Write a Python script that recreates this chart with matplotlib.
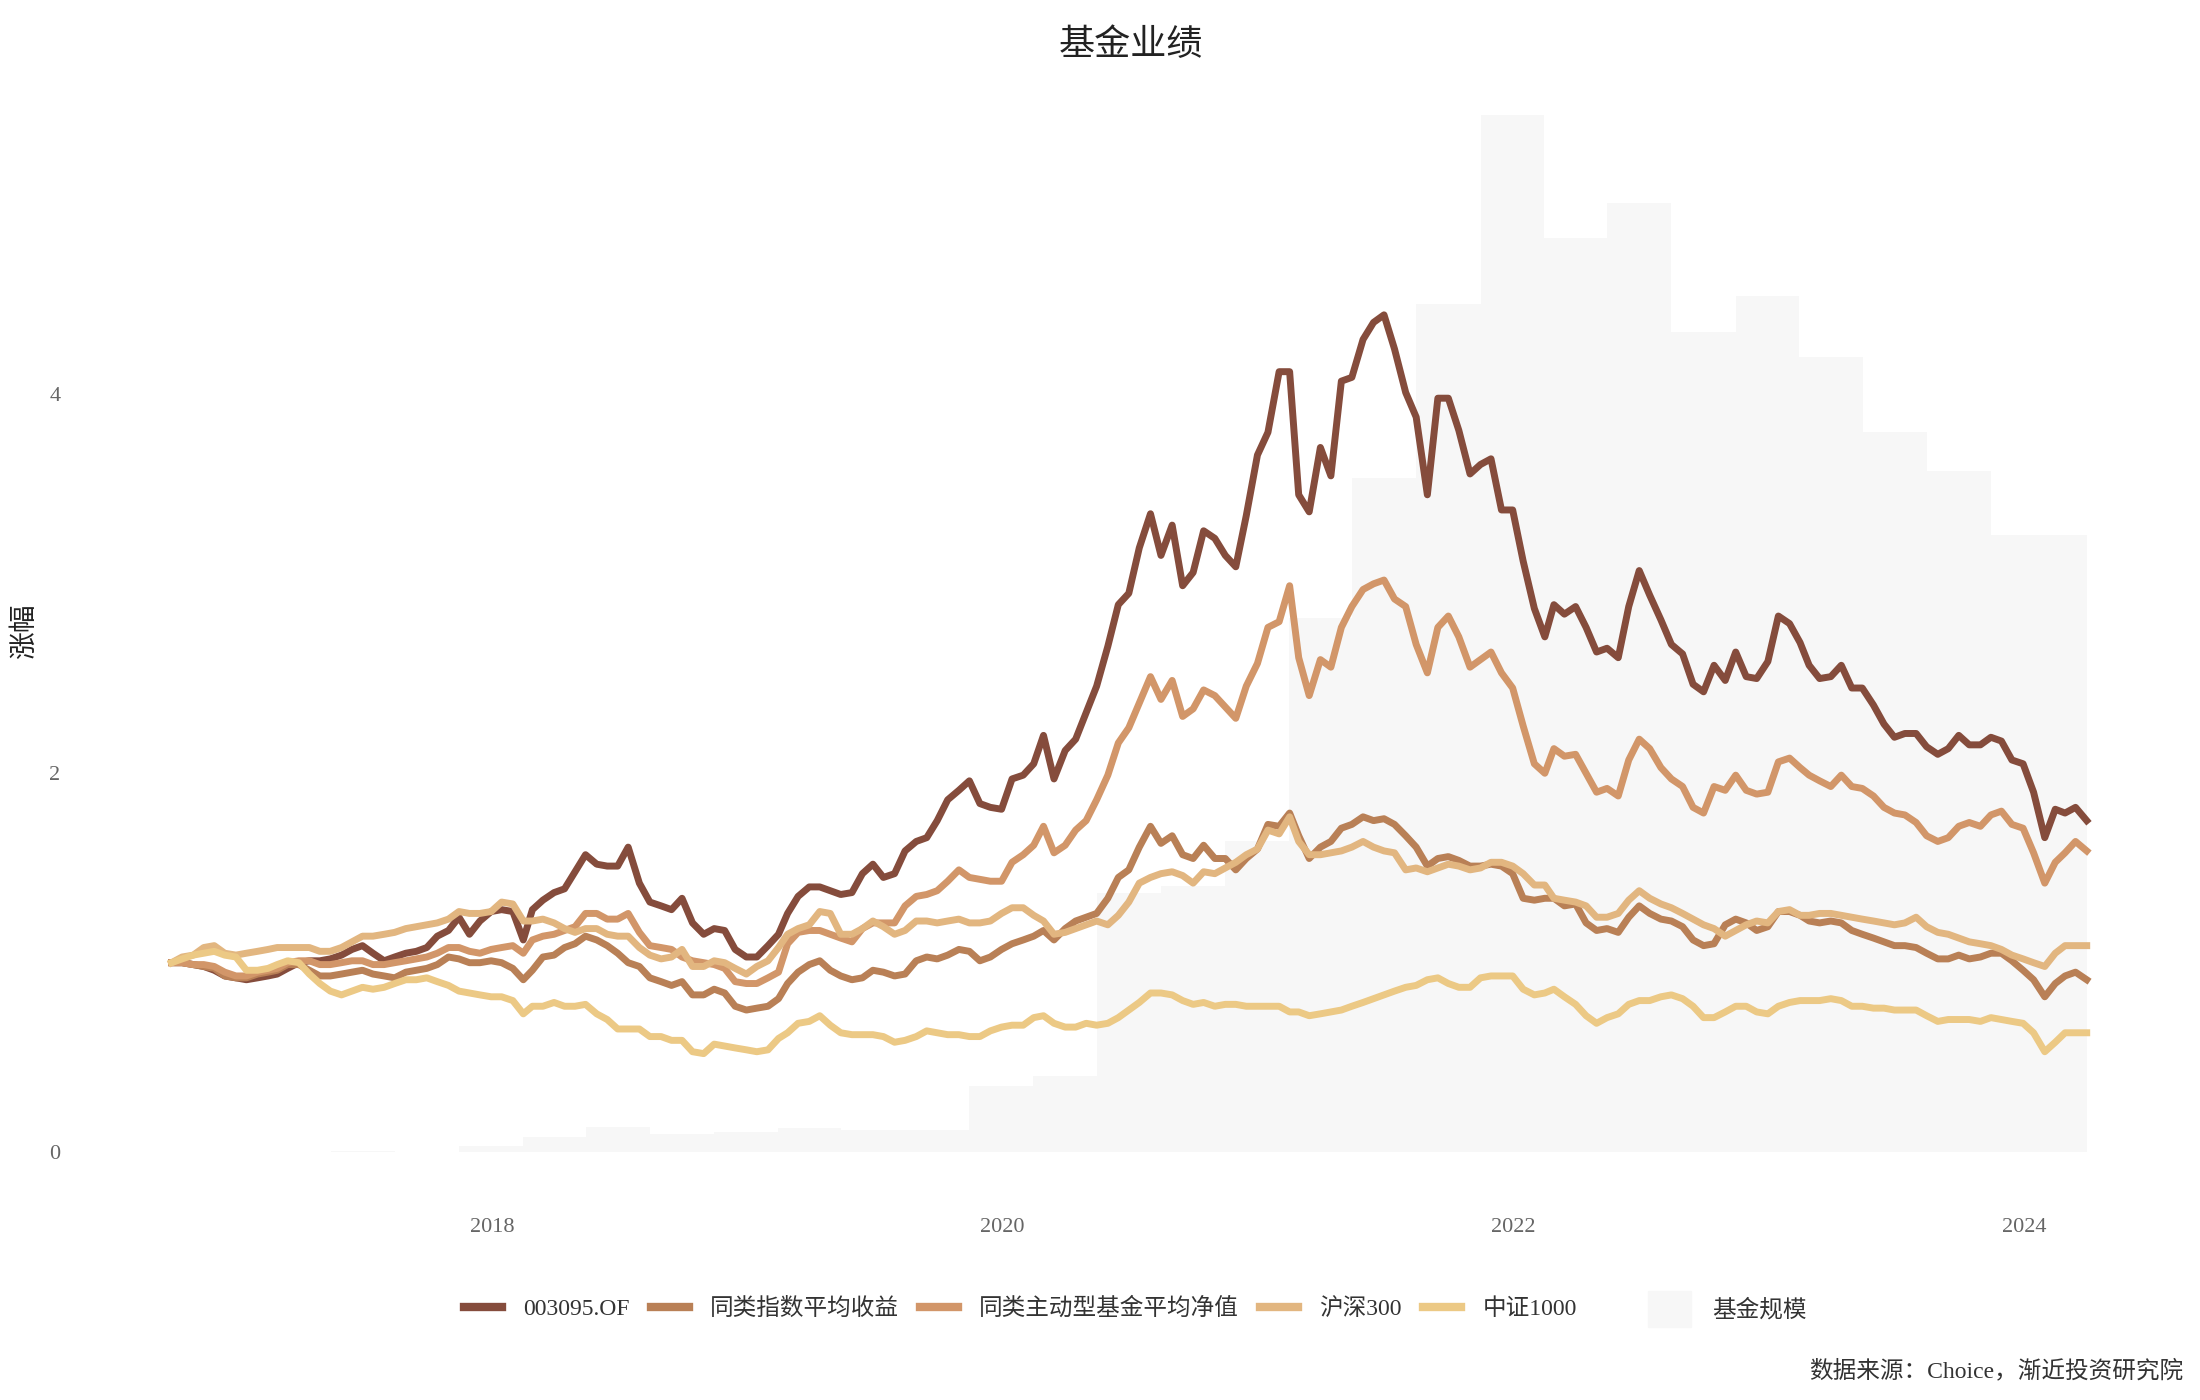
import datetime as dt
import matplotlib
matplotlib.use('Agg')
import matplotlib.pyplot as plt
import matplotlib.dates as mdates
from matplotlib.lines import Line2D
from matplotlib.patches import Patch
import pandas as pd

plt.rcParams['font.family'] = ['Liberation Serif', 'Noto Sans CJK SC']

# semi-monthly dates: 2016-09-30, then the 15th and the last day of each month to 2024-03
mon = pd.period_range('2016-09', '2024-03', freq='M')
ends = list(mon.to_timestamp(how='end').normalize())
mids = [p.to_timestamp() + pd.Timedelta(days=14) for p in mon[1:]]
dates = sorted(ends + mids)
quarters = pd.period_range('2016Q3', '2024Q1', freq='Q').to_timestamp(how='end').normalize()

# each row after the first value: one year, pairs of (mid-month, month-end)
fund = [1.00,
        1.00, 0.99, 0.98, 0.96, 0.93, 0.92,
        0.91, 0.92, 0.93, 0.94, 0.97, 1.00, 1.01, 1.01, 1.02, 1.04, 1.07, 1.09,
        1.05, 1.01, 1.03, 1.05, 1.06, 1.08, 1.14, 1.17, 1.24, 1.15, 1.22, 1.27,
        1.28, 1.27, 1.12, 1.28, 1.33, 1.37, 1.39, 1.48, 1.57, 1.52, 1.51, 1.51,
        1.61, 1.42, 1.32, 1.30, 1.28, 1.34, 1.21, 1.15, 1.18, 1.17, 1.07, 1.03,
        1.03, 1.09, 1.15, 1.26, 1.35, 1.40, 1.40, 1.38, 1.36, 1.37, 1.47, 1.52,
        1.45, 1.47, 1.59, 1.64, 1.66, 1.75, 1.86, 1.91, 1.96, 1.84, 1.82, 1.81,
        1.97, 1.99, 2.05, 2.20, 1.97, 2.12, 2.18, 2.32, 2.46, 2.67, 2.89, 2.95,
        3.19, 3.37, 3.15, 3.31, 2.99, 3.06, 3.28, 3.24, 3.15, 3.09, 3.36, 3.68,
        3.80, 4.12, 4.12, 3.47, 3.38, 3.72, 3.57, 4.07, 4.09, 4.29, 4.38, 4.42,
        4.24, 4.01, 3.88, 3.47, 3.98, 3.98, 3.81, 3.58, 3.63, 3.66, 3.39, 3.39,
        3.12, 2.87, 2.72, 2.89, 2.84, 2.88, 2.77, 2.64, 2.66, 2.61, 2.88, 3.07,
        2.94, 2.81, 2.68, 2.63, 2.47, 2.43, 2.57, 2.49, 2.64, 2.51, 2.50, 2.59,
        2.83, 2.79, 2.69, 2.57, 2.50, 2.51, 2.57, 2.45, 2.45, 2.36, 2.26, 2.19,
        2.21, 2.21, 2.14, 2.10, 2.13, 2.20, 2.15, 2.15, 2.19, 2.17, 2.07, 2.05,
        1.90, 1.66, 1.81, 1.79, 1.82, 1.75]

peer_index = [1.00,
              1.00, 0.99, 0.98, 0.97, 0.93, 0.92,
              0.92, 0.94, 0.95, 0.96, 0.99, 0.99, 0.96, 0.93, 0.93, 0.94, 0.95, 0.96,
              0.94, 0.93, 0.92, 0.95, 0.96, 0.97, 0.99, 1.03, 1.02, 1.00, 1.00, 1.01,
              1.00, 0.97, 0.91, 0.96, 1.03, 1.04, 1.08, 1.10, 1.14, 1.12, 1.09, 1.05,
              1.00, 0.98, 0.92, 0.90, 0.88, 0.90, 0.83, 0.83, 0.86, 0.84, 0.77, 0.75,
              0.76, 0.77, 0.81, 0.89, 0.95, 0.99, 1.01, 0.96, 0.93, 0.91, 0.92, 0.96,
              0.95, 0.93, 0.94, 1.01, 1.03, 1.02, 1.04, 1.07, 1.06, 1.01, 1.03, 1.07,
              1.10, 1.12, 1.14, 1.17, 1.12, 1.18, 1.22, 1.24, 1.26, 1.34, 1.45, 1.49,
              1.61, 1.72, 1.63, 1.67, 1.57, 1.55, 1.62, 1.55, 1.55, 1.49, 1.55, 1.60,
              1.73, 1.72, 1.79, 1.67, 1.55, 1.61, 1.64, 1.71, 1.73, 1.77, 1.75, 1.76,
              1.73, 1.67, 1.61, 1.51, 1.55, 1.56, 1.54, 1.51, 1.51, 1.52, 1.51, 1.47,
              1.34, 1.33, 1.34, 1.34, 1.30, 1.31, 1.21, 1.17, 1.18, 1.16, 1.24, 1.30,
              1.26, 1.23, 1.22, 1.19, 1.12, 1.09, 1.10, 1.20, 1.23, 1.21, 1.17, 1.19,
              1.27, 1.27, 1.25, 1.22, 1.21, 1.22, 1.21, 1.17, 1.15, 1.13, 1.11, 1.09,
              1.09, 1.08, 1.05, 1.02, 1.02, 1.04, 1.02, 1.03, 1.05, 1.05, 1.01, 0.96,
              0.91, 0.82, 0.89, 0.93, 0.95, 0.91]

peer_active = [1.00,
               1.00, 0.99, 0.99, 0.98, 0.95, 0.93,
               0.93, 0.95, 0.96, 0.97, 1.00, 1.01, 1.01, 0.99, 0.99, 1.00, 1.01, 1.01,
               0.99, 0.99, 1.00, 1.01, 1.02, 1.03, 1.05, 1.08, 1.08, 1.06, 1.05, 1.07,
               1.08, 1.09, 1.05, 1.12, 1.14, 1.15, 1.17, 1.19, 1.26, 1.26, 1.23, 1.23,
               1.26, 1.16, 1.09, 1.08, 1.07, 1.03, 1.01, 1.00, 0.99, 0.97, 0.90, 0.89,
               0.89, 0.92, 0.95, 1.10, 1.16, 1.17, 1.17, 1.15, 1.13, 1.11, 1.18, 1.21,
               1.21, 1.21, 1.30, 1.35, 1.36, 1.38, 1.43, 1.49, 1.45, 1.44, 1.43, 1.43,
               1.53, 1.57, 1.62, 1.72, 1.58, 1.62, 1.70, 1.75, 1.86, 1.99, 2.16, 2.24,
               2.37, 2.51, 2.39, 2.49, 2.30, 2.34, 2.44, 2.41, 2.35, 2.29, 2.46, 2.58,
               2.77, 2.80, 2.99, 2.61, 2.41, 2.60, 2.56, 2.77, 2.88, 2.97, 3.00, 3.02,
               2.92, 2.88, 2.68, 2.53, 2.77, 2.83, 2.72, 2.56, 2.60, 2.64, 2.53, 2.45,
               2.25, 2.05, 2.00, 2.13, 2.09, 2.10, 2.00, 1.90, 1.92, 1.88, 2.07, 2.18,
               2.13, 2.03, 1.97, 1.93, 1.82, 1.79, 1.93, 1.91, 1.99, 1.91, 1.89, 1.90,
               2.06, 2.08, 2.03, 1.99, 1.96, 1.93, 1.99, 1.93, 1.92, 1.88, 1.82, 1.79,
               1.78, 1.74, 1.67, 1.64, 1.66, 1.72, 1.74, 1.72, 1.78, 1.80, 1.73, 1.71,
               1.58, 1.42, 1.53, 1.58, 1.64, 1.59]

hs300 = [1.00,
         1.03, 1.04, 1.08, 1.09, 1.05, 1.04,
         1.05, 1.06, 1.07, 1.08, 1.08, 1.08, 1.08, 1.06, 1.06, 1.08, 1.11, 1.14,
         1.14, 1.15, 1.16, 1.18, 1.19, 1.20, 1.21, 1.23, 1.27, 1.26, 1.26, 1.27,
         1.32, 1.31, 1.22, 1.22, 1.23, 1.21, 1.18, 1.16, 1.18, 1.18, 1.15, 1.14,
         1.14, 1.08, 1.04, 1.02, 1.03, 1.07, 0.98, 0.98, 1.01, 1.00, 0.97, 0.94,
         0.98, 1.01, 1.08, 1.15, 1.18, 1.20, 1.27, 1.26, 1.15, 1.15, 1.18, 1.22,
         1.19, 1.15, 1.17, 1.22, 1.22, 1.21, 1.22, 1.23, 1.21, 1.21, 1.22, 1.26,
         1.29, 1.29, 1.25, 1.22, 1.15, 1.16, 1.18, 1.20, 1.22, 1.20, 1.25, 1.32,
         1.42, 1.45, 1.47, 1.48, 1.46, 1.42, 1.48, 1.47, 1.50, 1.53, 1.57, 1.60,
         1.70, 1.68, 1.77, 1.64, 1.57, 1.57, 1.58, 1.59, 1.61, 1.64, 1.61, 1.59,
         1.58, 1.49, 1.50, 1.48, 1.50, 1.52, 1.51, 1.49, 1.50, 1.53, 1.53, 1.51,
         1.47, 1.41, 1.41, 1.34, 1.33, 1.32, 1.30, 1.24, 1.24, 1.26, 1.33, 1.38,
         1.34, 1.31, 1.29, 1.26, 1.23, 1.20, 1.18, 1.14, 1.17, 1.20, 1.22, 1.21,
         1.27, 1.28, 1.25, 1.25, 1.26, 1.26, 1.25, 1.24, 1.23, 1.22, 1.21, 1.20,
         1.21, 1.24, 1.19, 1.16, 1.15, 1.13, 1.11, 1.10, 1.09, 1.07, 1.04, 1.02,
         1.00, 0.98, 1.05, 1.09, 1.09, 1.09]

zz1000 = [1.00,
          1.02, 1.04, 1.05, 1.06, 1.04, 1.03,
          0.96, 0.96, 0.97, 0.99, 1.01, 1.00, 0.94, 0.89, 0.85, 0.83, 0.85, 0.87,
          0.86, 0.87, 0.89, 0.91, 0.91, 0.92, 0.90, 0.88, 0.85, 0.84, 0.83, 0.82,
          0.82, 0.80, 0.73, 0.77, 0.77, 0.79, 0.77, 0.77, 0.78, 0.73, 0.70, 0.65,
          0.65, 0.65, 0.61, 0.61, 0.59, 0.59, 0.53, 0.52, 0.57, 0.56, 0.55, 0.54,
          0.53, 0.54, 0.60, 0.63, 0.68, 0.69, 0.72, 0.67, 0.63, 0.62, 0.62, 0.62,
          0.61, 0.58, 0.59, 0.61, 0.64, 0.63, 0.62, 0.62, 0.61, 0.61, 0.64, 0.66,
          0.67, 0.67, 0.71, 0.72, 0.68, 0.66, 0.66, 0.68, 0.67, 0.68, 0.71, 0.75,
          0.79, 0.84, 0.84, 0.83, 0.80, 0.78, 0.79, 0.77, 0.78, 0.78, 0.77, 0.77,
          0.77, 0.77, 0.74, 0.74, 0.72, 0.73, 0.74, 0.75, 0.77, 0.79, 0.81, 0.83,
          0.85, 0.87, 0.88, 0.91, 0.92, 0.89, 0.87, 0.87, 0.92, 0.93, 0.93, 0.93,
          0.86, 0.83, 0.84, 0.86, 0.82, 0.78, 0.72, 0.68, 0.71, 0.73, 0.78, 0.80,
          0.80, 0.82, 0.83, 0.81, 0.77, 0.71, 0.71, 0.74, 0.77, 0.77, 0.74, 0.73,
          0.77, 0.79, 0.80, 0.80, 0.80, 0.81, 0.80, 0.77, 0.77, 0.76, 0.76, 0.75,
          0.75, 0.75, 0.72, 0.69, 0.70, 0.70, 0.70, 0.69, 0.71, 0.70, 0.69, 0.68,
          0.63, 0.53, 0.58, 0.63, 0.63, 0.63]

# 基金规模 (亿元), quarter ends 2016Q3 .. 2024Q1
scale = [0, 0, 0, 0.4, 0, 1.5, 4.1, 6.7, 4.8, 5.2, 6.3, 5.9, 5.9, 17.4, 20.0,
         68.5, 70.3, 82.1, 141.0, 178.0, 223.9, 273.8, 241.2, 250.5, 216.5,
         226.1, 209.8, 190.2, 179.8, 162.8, 162.8]

names = ['003095.OF', '同类指数平均收益', '同类主动型基金平均净值', '沪深300', '中证1000']
colors = ['#854c3c', '#b98056', '#d29669', '#e2b680', '#ecc985']
series = [fund, peer_index, peer_active, hs300, zz1000]

fig = plt.figure(figsize=(22, 14), dpi=100)
ax = fig.add_axes([80 / 2200, 1 - 1190 / 1400, 2020 / 2200, 1100 / 1400])
ax2 = ax.twinx()

ax2.fill_between(quarters, scale, 0, step='mid', color='#f7f7f7', lw=0)
ax2.set_ylim(-10, 280.35)
ax2.axis('off')
ax.set_zorder(ax2.get_zorder() + 1)
ax.patch.set_visible(False)

for s, c, n in zip(series, colors, names):
    ax.plot(dates, s, color=c, lw=5, label=n, solid_joinstyle='round')

ax.set_xlim(dt.datetime(2016, 5, 22), dt.datetime(2024, 4, 19))
ax.set_ylim(-0.2, 5.607)
ax.set_yticks([0, 2, 4])
ax.set_xticks([dt.datetime(y, 1, 1) for y in (2018, 2020, 2022, 2024)])
ax.xaxis.set_major_formatter(mdates.DateFormatter('%Y'))
ax.tick_params(axis='both', length=0, labelsize=16, colors='#666666')
ax.tick_params(axis='x', pad=20)
ax.tick_params(axis='y', pad=14)
for sp in ax.spines.values():
    sp.set_visible(False)

fig.text(0.514, 0.967, '基金业绩', ha='center', va='center', fontsize=26, color='#222222')
fig.text(25 / 2200, 1 - 631 / 1400, '涨幅', rotation=90, ha='center', va='center',
         fontsize=20, color='#222222')
fig.text(2183 / 2200, 1 - 1371 / 1400, '数据来源：Choice，渐近投资研究院',
         ha='right', va='center', fontsize=17, color='#333333')

line_handles = [Line2D([], [], color=c, lw=6) for c in colors]
fig.legend(line_handles, names, loc='center left', bbox_to_anchor=(443 / 2200, 0.065),
           ncol=5, frameon=False, fontsize=17, handlelength=1.6, handletextpad=0.9,
           columnspacing=0.9, labelcolor='#333333')
fig.legend([Patch(color='#f7f7f7')], ['基金规模'], loc='center left',
           bbox_to_anchor=(1627 / 2200, 0.065), frameon=False, fontsize=17,
           handlelength=1.8, handleheight=2.0, handletextpad=0.9, labelcolor='#333333')

fig.savefig('out.png', dpi=100)
